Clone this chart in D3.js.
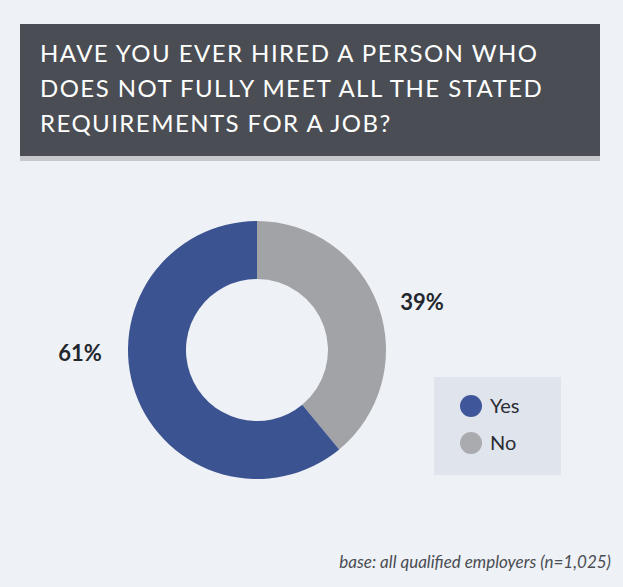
<!DOCTYPE html>
<html><head><meta charset="utf-8">
<script src="https://cdn.jsdelivr.net/npm/d3@7"></script>
<style>
html,body{margin:0;padding:0;background:#eef1f6;}
svg{display:block;}
</style></head>
<body>
<svg id="chart" width="623" height="587"></svg>
<script>
const titleLines = ["HAVE YOU EVER HIRED A PERSON WHO", "DOES NOT FULLY MEET ALL THE STATED", "REQUIREMENTS FOR A JOB?"];
const categories = ["No", "Yes"];
const values = [39, 61];
const colors = ["#a2a3a7", "#3c5391"];
const legendOrder = ["Yes", "No"];
const legendColors = ["#3f569b", "#aaabae"];
const footnote = "base: all qualified employers (n=1,025)";

const svg = d3.select("#chart");
svg.append("rect").attr("width",623).attr("height",587).attr("fill","#eef1f6");

// title box
svg.append("rect").attr("x",20).attr("y",24).attr("width",580).attr("height",137).attr("fill","#c6c8cc");
svg.append("rect").attr("x",20).attr("y",24).attr("width",580).attr("height",132).attr("fill","#4a4e54");
svg.selectAll("text.title").data(titleLines).enter().append("text")
  .attr("class","title")
  .attr("x",40).attr("y",(d,i)=>62+i*35)
  .attr("fill","#ffffff")
  .style("font-family","Lato, sans-serif")
  .style("font-size","24px")
  .style("letter-spacing","1.45px")
  .text(d=>d);

// donut
const cx = 257, cy = 350;
const g = svg.append("g").attr("transform",`translate(${cx},${cy})`);
const pie = d3.pie().sort(null).value(d=>d.v);
const arcs = pie(categories.map((c,i)=>({c, v: values[i], col: colors[i]})));
const arc = d3.arc().innerRadius(71).outerRadius(129);
g.selectAll("path").data(arcs).enter().append("path")
  .attr("d",arc).attr("fill",d=>d.data.col);

// labels
svg.append("text").attr("x",80).attr("y",361).attr("text-anchor","middle")
  .attr("fill","#23272d").style("font-family","Lato, sans-serif").style("font-weight","bold").style("font-size","22px")
  .text(values[1]+"%");
svg.append("text").attr("x",422).attr("y",310).attr("text-anchor","middle")
  .attr("fill","#23272d").style("font-family","Lato, sans-serif").style("font-weight","bold").style("font-size","22px")
  .text(values[0]+"%");

// legend
svg.append("rect").attr("x",434).attr("y",377).attr("width",127).attr("height",98).attr("fill","#e0e4ed");
const lg = svg.selectAll("g.leg").data(legendOrder).enter().append("g").attr("class","leg")
  .attr("transform",(d,i)=>`translate(471,${406+i*37})`);
lg.append("circle").attr("r",11).attr("fill",(d,i)=>legendColors[i]);
lg.append("text").attr("x",19).attr("y",7).attr("fill","#2a2d33")
  .style("font-family","Lato, sans-serif").style("font-size","20px").text(d=>d);

// footnote
svg.append("text").attr("x",611).attr("y",568).attr("text-anchor","end")
  .attr("fill","#4a4d52").style("font-family","Lato, sans-serif").style("font-style","italic").style("font-size","17px")
  .text(footnote);
</script>
</body></html>
